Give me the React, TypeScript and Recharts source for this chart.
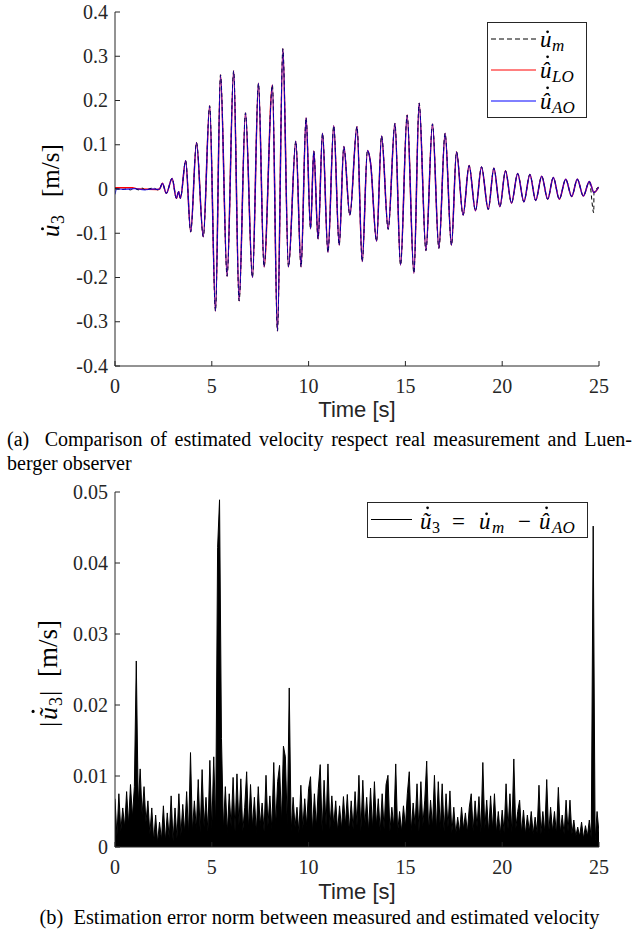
import { Area, ComposedChart, Legend, Line, LineChart, XAxis, YAxis } from 'recharts'

const AXIS = '#262626'
const SERIF = 'Liberation Serif'
const SANS = 'Liberation Sans'

const timeTicks = [0, 5, 10, 15, 20, 25]
const velTicks = [-0.4, -0.3, -0.2, -0.1, 0, 0.1, 0.2, 0.3, 0.4]
const errTicks = [0, 0.01, 0.02, 0.03, 0.04, 0.05]

// start-up part (before the shaking begins), different for each trace
const headTimeM = [0, 0.2, 0.4, 0.6, 0.8, 1.0, 1.2, 1.4, 1.6, 1.8, 2.0, 2.2]
const headValM = [0.001, 0.0, -0.001, 0.0, -0.002, 0.002, -0.002, 0.002, -0.003, 0.001, 0.002, -0.002]
const headTimeLO = [0, 0.9, 1.2, 2.2]
const headValLO = [0.0028, 0.0028, 0.0, -0.001]
const headTimeAO = [0, 0.08, 0.5, 1.0, 1.5, 2.0, 2.2]
const headValAO = [-0.012, 0.0, -0.001, 0.001, -0.002, 0.0, -0.001]

// peaks and valleys common to the three velocity traces
const oscTime = [
    2.3, 2.45, 2.65, 2.95, 3.17, 3.29, 3.38, 3.65, 3.91, 4.21, 4.56, 4.89, 5.19, 5.45, 5.79,
    6.13, 6.41, 6.74, 7.1, 7.41, 7.7, 8.13, 8.39, 8.67, 8.96, 9.34, 9.61, 9.87, 10.1, 10.27,
    10.49, 10.72, 11.0, 11.3, 11.58, 11.82, 12.13, 12.5, 12.77, 13.04, 13.2, 13.51, 13.77,
    14.11, 14.46, 14.75, 15.09, 15.44, 15.71, 16.06, 16.4, 16.73, 17.05, 17.38, 17.64, 17.98,
    18.29, 18.62, 18.93, 19.28, 19.57, 19.88, 20.17, 20.48, 20.8, 21.12, 21.43, 21.73, 22.04,
    22.35, 22.64, 22.95, 23.28, 23.59, 23.88, 24.19, 24.5, 24.74, 24.98,
]
const oscVal = [
    0.0, 0.0128, -0.0098, 0.024, -0.021, -0.006, -0.021, 0.064, -0.097, 0.105, -0.108, 0.188,
    -0.276, 0.258, -0.197, 0.267, -0.253, 0.172, -0.2, 0.239, -0.176, 0.235, -0.321, 0.317,
    -0.176, 0.108, -0.176, 0.161, -0.09, 0.086, -0.113, 0.126, -0.143, 0.143, -0.127, 0.096,
    -0.059, 0.141, -0.164, 0.087, 0.059, -0.118, 0.12, -0.091, 0.148, -0.172, 0.167, -0.19,
    0.194, -0.139, 0.147, -0.134, 0.126, -0.127, 0.084, -0.059, 0.053, -0.049, 0.05, -0.046,
    0.047, -0.04, 0.041, -0.032, 0.035, -0.029, 0.033, -0.026, 0.029, -0.023, 0.026, -0.023,
    0.022, -0.017, 0.022, -0.016, 0.017, -0.008, 0.004,
]

// sensor glitch only in the measurement
const glitchTime = [24.73]
const glitchVal = [-0.054]

// |error| sampled every 0.1 s
const errStep = 0.1
const errVal = [
    0.0068, 0.0015, 0.0075, 0.0022, 0.0055, 0.0028, 0.0078, 0.0032, 0.0088, 0.0042,
    0.0085, 0.0262, 0.0058, 0.011, 0.0045, 0.0085, 0.0035, 0.0065, 0.0018, 0.0055,
    0.0008, 0.0045, 0.0006, 0.0035, 0.001, 0.0058, 0.0008, 0.0048, 0.0012, 0.0072,
    0.0008, 0.0055, 0.0012, 0.0075, 0.0015, 0.006, 0.002, 0.0078, 0.0018, 0.0133,
    0.0022, 0.0065, 0.0025, 0.0095, 0.002, 0.0109, 0.0028, 0.007, 0.0022, 0.0122,
    0.0025, 0.0127, 0.003, 0.0422, 0.0489, 0.0153, 0.0025, 0.0085, 0.002, 0.0075,
    0.0028, 0.0098, 0.0022, 0.0103, 0.003, 0.0096, 0.0022, 0.0056, 0.0106, 0.0025,
    0.0088, 0.0028, 0.007, 0.002, 0.0085, 0.003, 0.0062, 0.0022, 0.0101, 0.003,
    0.0072, 0.0025, 0.0119, 0.003, 0.0092, 0.0115, 0.0035, 0.0142, 0.0127, 0.003,
    0.0224, 0.0022, 0.007, 0.0028, 0.0056, 0.002, 0.0087, 0.0025, 0.0068, 0.003,
    0.0082, 0.0099, 0.0022, 0.0075, 0.0028, 0.0082, 0.0116, 0.0022, 0.0094, 0.003,
    0.0117, 0.0025, 0.0072, 0.003, 0.0065, 0.0022, 0.0058, 0.0025, 0.0071, 0.003,
    0.0074, 0.0022, 0.0065, 0.0025, 0.0078, 0.003, 0.0101, 0.0022, 0.0094, 0.0028,
    0.007, 0.0022, 0.0083, 0.0025, 0.0092, 0.003, 0.0068, 0.0022, 0.0075, 0.0025,
    0.0088, 0.0101, 0.0022, 0.0056, 0.0028, 0.0117, 0.002, 0.005, 0.0022, 0.0058,
    0.0028, 0.0075, 0.0106, 0.0022, 0.0062, 0.003, 0.0089, 0.0022, 0.0092, 0.003,
    0.0066, 0.0121, 0.0022, 0.0066, 0.0028, 0.0101, 0.0022, 0.0092, 0.0025, 0.0089,
    0.0022, 0.0075, 0.0028, 0.0079, 0.002, 0.0056, 0.0018, 0.0042, 0.002, 0.0056,
    0.0025, 0.0048, 0.002, 0.0056, 0.0075, 0.0022, 0.0065, 0.0028, 0.0071, 0.002,
    0.0119, 0.0025, 0.0066, 0.002, 0.0072, 0.0025, 0.0075, 0.002, 0.005, 0.0018,
    0.0052, 0.002, 0.0089, 0.0025, 0.0075, 0.002, 0.0124, 0.0025, 0.005, 0.0066,
    0.002, 0.0052, 0.0018, 0.0045, 0.0022, 0.005, 0.0018, 0.0042, 0.002, 0.0087,
    0.0018, 0.005, 0.002, 0.0095, 0.0018, 0.0056, 0.0022, 0.005, 0.0018, 0.0084,
    0.002, 0.0045, 0.0018, 0.0066, 0.0022, 0.0066, 0.0018, 0.0038, 0.0015, 0.0028,
    0.0015, 0.0035, 0.0012, 0.003, 0.0015, 0.0038, 0.0012, 0.0452, 0.001, 0.005,
    0.002,
]

type Pt = { t: number; v: number }

const toPoints = (ts: number[], vs: number[]): Pt[] =>
    ts.map((t, i) => ({ t, v: vs[i] })).sort((a, b) => a.t - b.t)

const measured = toPoints([...headTimeM, ...oscTime, ...glitchTime], [...headValM, ...oscVal, ...glitchVal])
const luenberger = toPoints([...headTimeLO, ...oscTime], [...headValLO, ...oscVal])
const adaptive = toPoints([...headTimeAO, ...oscTime], [...headValAO, ...oscVal])
const errorNorm: Pt[] = errVal.map((v, i) => ({ t: +(i * errStep).toFixed(1), v }))

const fmtVel = (v: number) => (v === 0 ? '0' : v.toFixed(1))
const fmtErr = (v: number) => (v === 0 ? '0' : v.toFixed(2))

function BottomTick({ x, y, payload }: any) {
    return (
        <g>
            <line x1={x} y1={y} x2={x} y2={y - 5} stroke={AXIS} />
            <text x={x} y={y + 27} textAnchor="middle" fontFamily={SERIF} style={{ fontFamily: SERIF }} fontSize={20} fill={AXIS}>
                {payload.value}
            </text>
        </g>
    )
}

function TopTick({ x, y }: any) {
    return <line x1={x} y1={y} x2={x} y2={y + 5} stroke={AXIS} />
}

function RightTick({ x, y }: any) {
    return <line x1={x} y1={y} x2={x - 5} y2={y} stroke={AXIS} />
}

function makeLeftTick(fmt: (v: number) => string) {
    return function LeftTick({ x, y, payload }: any) {
        return (
            <g>
                <line x1={x} y1={y} x2={x + 5} y2={y} stroke={AXIS} />
                <text x={x - 7} y={y + 6.5} textAnchor="end" fontFamily={SERIF} style={{ fontFamily: SERIF }} fontSize={20} fill={AXIS}>
                    {fmt(payload.value)}
                </text>
            </g>
        )
    }
}

// italic u with an accent (hat / tilde) and a dot drawn above it
function MathU({ x, y, size, accent }: { x: number; y: number; size: number; accent?: 'hat' | 'tilde' }) {
    const glyph = accent === 'hat' ? '\u00fb' : accent === 'tilde' ? '\u0169' : 'u'
    const lift = accent ? size * 0.92 : size * 0.66
    return (
        <g>
            <text x={x} y={y} fontFamily={SERIF} style={{ fontFamily: SERIF }} fontStyle="italic" fontSize={size} fill="#000">
                {glyph}
            </text>
            <circle cx={x + size * 0.33} cy={y - lift} r={size * 0.06} fill="#000" />
        </g>
    )
}

function Txt({ x, y, size, italic, children }: any) {
    return (
        <text x={x} y={y} fontFamily={SERIF} style={{ fontFamily: SERIF }} fontStyle={italic ? 'italic' : 'normal'} fontSize={size} fill="#000">
            {children}
        </text>
    )
}

const timeLabel = (y: number) => () => (
    <text x={357} y={y} textAnchor="middle" fontFamily={SANS} style={{ fontFamily: SANS }} fontSize={22} fill={AXIS}>
        Time [s]
    </text>
)

const velLabel = () => (
    <g transform="translate(59,237) rotate(-90)">
        <MathU x={0} y={0} size={25} />
        <Txt x={13} y={5} size={18}>3</Txt>
        <Txt x={40} y={0} size={25}>[m/s]</Txt>
    </g>
)

const errLabel = () => (
    <g transform="translate(57,287) rotate(-90)">
        <Txt x={0} y={0} size={26}>|</Txt>
        <MathU x={7} y={0} size={26} accent="tilde" />
        <Txt x={21} y={5} size={18}>3</Txt>
        <Txt x={31} y={0} size={26}>|</Txt>
        <Txt x={50} y={0} size={27}>[m/s]</Txt>
    </g>
)

function VelLegend() {
    const rows = [
        { color: '#000', dash: '5 3', accent: undefined, sub: 'm' },
        { color: '#ff0000', dash: undefined, accent: 'hat' as const, sub: 'LO' },
        { color: '#0000ff', dash: undefined, accent: 'hat' as const, sub: 'AO' },
    ]
    return (
        <svg width={100} height={96} style={{ display: 'block' }}>
            <rect x={0.5} y={0.5} width={99} height={95} fill="#fff" stroke={AXIS} />
            {rows.map((r, i) => (
                <g key={r.sub}>
                    <line x1={4} x2={49} y1={17 + i * 31} y2={17 + i * 31} stroke={r.color} strokeDasharray={r.dash} />
                    <MathU x={53} y={25 + i * 31} size={23} accent={r.accent} />
                    <Txt x={65} y={29 + i * 31} size={17} italic>
                        {r.sub}
                    </Txt>
                </g>
            ))}
        </svg>
    )
}

function ErrLegend() {
    return (
        <svg width={221} height={36} style={{ display: 'block' }}>
            <rect x={0.5} y={0.5} width={220} height={35} fill="#fff" stroke={AXIS} />
            <line x1={4} x2={45} y1={17.5} y2={17.5} stroke="#000" />
            <MathU x={53} y={27} size={23} accent="tilde" />
            <Txt x={65} y={31} size={16}>3</Txt>
            <Txt x={85} y={27} size={23}>=</Txt>
            <MathU x={112} y={27} size={23} />
            <Txt x={125} y={31} size={17} italic>m</Txt>
            <Txt x={151} y={27} size={23}>−</Txt>
            <MathU x={172} y={27} size={23} accent="hat" />
            <Txt x={185} y={31} size={17} italic>AO</Txt>
        </svg>
    )
}

export default function App() {
    return (
        <div style={{ position: 'absolute', left: 0, top: 0, width: 639, height: 936, background: '#fff' }}>
            <div style={{ position: 'absolute', left: 0, top: 0 }}>
                <LineChart width={639} height={430} margin={{ top: 12, right: 40, bottom: 0, left: 0 }}>
                    <XAxis
                        xAxisId="b"
                        dataKey="t"
                        type="number"
                        domain={[0, 25]}
                        ticks={timeTicks}
                        height={64}
                        tickSize={0}
                        tickMargin={0}
                        tick={<BottomTick />}
                        axisLine={{ stroke: AXIS }}
                        label={timeLabel(417)}
                        allowDataOverflow
                    />
                    <XAxis xAxisId="t" orientation="top" dataKey="t" type="number" domain={[0, 25]} ticks={timeTicks} height={0} tickSize={0} tickMargin={0} tick={<TopTick />} axisLine={{ stroke: AXIS }} />
                    <YAxis
                        yAxisId="l"
                        type="number"
                        domain={[-0.4, 0.4]}
                        ticks={velTicks}
                        width={115}
                        tickSize={0}
                        tickMargin={0}
                        tick={makeLeftTick(fmtVel)}
                        axisLine={{ stroke: AXIS }}
                        label={velLabel}
                        allowDataOverflow
                    />
                    <YAxis yAxisId="r" orientation="right" type="number" domain={[-0.4, 0.4]} ticks={velTicks} width={0} tickSize={0} tickMargin={0} tick={<RightTick />} axisLine={{ stroke: AXIS }} />
                    <Line xAxisId="b" yAxisId="l" data={luenberger} dataKey="v" type="monotone" stroke="#ff0000" strokeWidth={1.5} dot={false} isAnimationActive={false} />
                    <Line xAxisId="b" yAxisId="l" data={measured} dataKey="v" type="monotone" stroke="#000" strokeWidth={1} strokeDasharray="4 3" dot={false} isAnimationActive={false} />
                    <Line xAxisId="b" yAxisId="l" data={adaptive} dataKey="v" type="monotone" stroke="#0000ff" strokeOpacity={0.72} strokeWidth={1.3} dot={false} isAnimationActive={false} />
                    <Legend layout="horizontal" verticalAlign="middle" content={<VelLegend />} wrapperStyle={{ left: 487, top: 22, width: 100, height: 96 }} />
                </LineChart>
            </div>

            <div style={{ position: 'absolute', left: 7, top: 427, width: 625, fontFamily: SERIF, fontSize: 20, lineHeight: '24px', color: '#000' }}>
                <div style={{ textAlign: 'justify', textAlignLast: 'justify' }}>
                    (a)&nbsp; Comparison of estimated velocity respect real measurement and Luen-
                </div>
                <div>berger observer</div>
            </div>

            <div style={{ position: 'absolute', left: 0, top: 440 }}>
                <ComposedChart width={639} height={470} data={errorNorm} margin={{ top: 52, right: 40, bottom: 0, left: 0 }}>
                    <XAxis
                        xAxisId="b"
                        dataKey="t"
                        type="number"
                        domain={[0, 25]}
                        ticks={timeTicks}
                        height={63}
                        tickSize={0}
                        tickMargin={0}
                        tick={<BottomTick />}
                        axisLine={{ stroke: AXIS }}
                        label={timeLabel(459)}
                        allowDataOverflow
                    />
                    <XAxis xAxisId="t" orientation="top" dataKey="t" type="number" domain={[0, 25]} ticks={timeTicks} height={0} tickSize={0} tickMargin={0} tick={<TopTick />} axisLine={{ stroke: AXIS }} />
                    <YAxis
                        yAxisId="l"
                        type="number"
                        domain={[0, 0.05]}
                        ticks={errTicks}
                        width={115}
                        tickSize={0}
                        tickMargin={0}
                        tick={makeLeftTick(fmtErr)}
                        axisLine={{ stroke: AXIS }}
                        label={errLabel}
                        allowDataOverflow
                    />
                    <YAxis yAxisId="r" orientation="right" type="number" domain={[0, 0.05]} ticks={errTicks} width={0} tickSize={0} tickMargin={0} tick={<RightTick />} axisLine={{ stroke: AXIS }} />
                    <Area xAxisId="b" yAxisId="l" dataKey="v" type="linear" stroke="#000" strokeWidth={1} fill="#000" fillOpacity={1} dot={false} activeDot={false} isAnimationActive={false} />
                    <Legend layout="horizontal" verticalAlign="middle" content={<ErrLegend />} wrapperStyle={{ left: 367, top: 62, width: 221, height: 36 }} />
                </ComposedChart>
            </div>

            <div style={{ position: 'absolute', left: 0, top: 905, width: 639, textAlign: 'center', fontFamily: SERIF, fontSize: 20.4, lineHeight: '24px', color: '#000' }}>
                (b)&nbsp; Estimation error norm between measured and estimated velocity
            </div>
        </div>
    )
}
